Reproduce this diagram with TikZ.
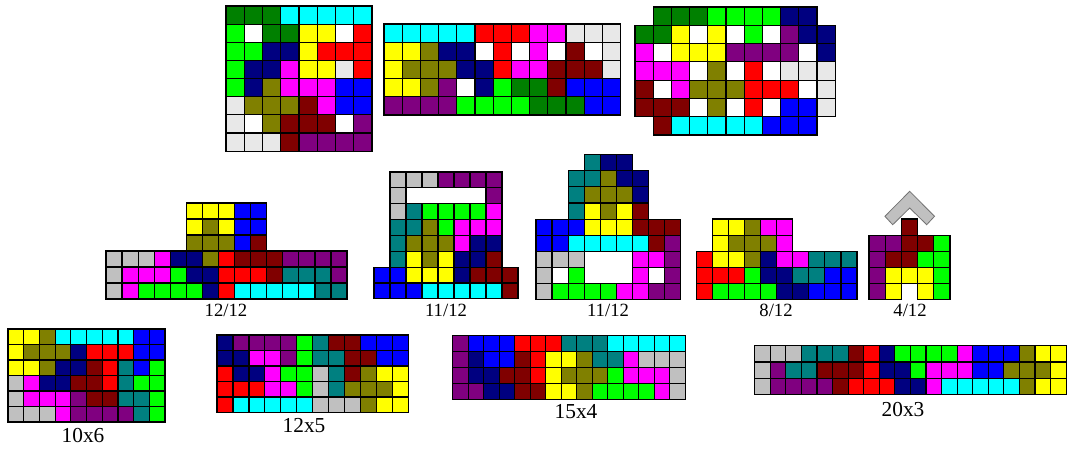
\documentclass[tikz,border=0pt]{standalone}
\usepackage{fontspec}
\setmainfont{Liberation Serif}
\definecolor{qG}{HTML}{008000}
\definecolor{qC}{HTML}{00FFFF}
\definecolor{qL}{HTML}{00FF00}
\definecolor{qW}{HTML}{FFFFFF}
\definecolor{qR}{HTML}{FF0000}
\definecolor{qN}{HTML}{000080}
\definecolor{qY}{HTML}{FFFF00}
\definecolor{qO}{HTML}{808000}
\definecolor{qM}{HTML}{FF00FF}
\definecolor{qB}{HTML}{0000FF}
\definecolor{qS}{HTML}{C0C0C0}
\definecolor{qP}{HTML}{800080}
\definecolor{qK}{HTML}{800000}
\definecolor{qT}{HTML}{008080}
\definecolor{qE}{HTML}{E8E8E8}
\tikzset{
  cellbox/.style={draw=black,line width=0.9pt},
  midlbl/.style={inner sep=0pt,font=\fontsize{14}{16}\selectfont},
  botlbl/.style={inner sep=0pt,font=\fontsize{16}{18}\selectfont},
  chevron/.style={fill=qS,draw=black!55,line width=0.6pt}
}
\newcommand\pgrid[5]{%
  \foreach \rw [count=\j from 0] in {#5} {%
    \foreach \q [count=\i from 0] in \rw {%
      \if\q x\else
        \filldraw[cellbox,fill=q\q] ({#1+\i*#3},{#2+\j*#4}) rectangle ++(#3,#4);
      \fi
    }%
  }%
}
\begin{document}
\begin{tikzpicture}[x=0.75pt,y=-0.75pt]
\fill[white] (0,0) rectangle (1069,452);
\useasboundingbox (0,0) rectangle (1069,452);

% top-left 8x8
\pgrid{226}{6}{18.25}{18.15}{%
 {G,G,G,C,C,C,C,C},
 {L,W,G,G,Y,Y,W,R},
 {L,L,N,N,Y,R,R,R},
 {L,N,N,M,Y,Y,E,R},
 {L,N,O,M,M,M,B,B},
 {E,O,O,O,K,M,B,B},
 {E,W,O,K,K,K,W,P},
 {E,E,E,K,P,P,P,P}}

% top-middle 13x5
\pgrid{384}{24}{18.2}{18.2}{%
 {C,C,C,C,C,R,R,R,M,M,E,E,E},
 {Y,Y,O,N,N,W,R,W,M,W,K,W,E},
 {Y,O,O,O,N,N,R,M,M,K,K,K,E},
 {Y,Y,O,P,W,N,L,G,G,K,B,B,B},
 {P,P,P,P,L,L,L,L,G,G,G,B,B}}

% top-right 11x7
\pgrid{635}{7}{18.2}{18.3}{%
 {x,G,G,G,L,L,L,L,N,N},
 {G,G,Y,W,Y,W,L,W,P,N,N},
 {M,W,Y,Y,Y,P,P,P,P,W,N},
 {M,M,M,W,O,W,R,W,E,E,E},
 {K,W,M,O,O,O,R,R,R,W,E},
 {K,K,K,W,O,W,R,W,B,B,E},
 {x,K,C,C,C,C,C,B,B,B}}

% 12/12
\pgrid{106}{203}{16.07}{16}{%
 {x,x,x,x,x,Y,Y,Y,B,B},
 {x,x,x,x,x,Y,O,Y,B,B},
 {x,x,x,x,x,O,O,O,B,K},
 {S,S,S,M,N,N,O,R,K,K,K,P,P,P,P},
 {S,M,M,M,L,N,N,R,R,R,K,T,T,T,P},
 {S,M,L,L,L,L,N,R,C,C,C,C,C,T,T}}
\node[midlbl] (l1212) at (226,310) {12/12};

% 11/12 first
\pgrid{374}{172}{16}{15.85}{%
 {x,S,S,S,P,P,P,P},
 {x,S,x,x,x,x,x,P},
 {x,S,T,L,L,L,L,M},
 {x,T,T,O,L,M,M,M},
 {x,T,O,O,O,M,N,N},
 {x,T,Y,O,Y,N,N,K},
 {B,B,Y,Y,Y,N,K,K,K},
 {B,B,B,C,C,C,C,C,K}}
\filldraw[cellbox,fill=white] (406,187.85) rectangle (486,203.7);
\node[midlbl] (l1112a) at (446,310) {11/12};

% 11/12 second
\pgrid{536}{154.7}{16.07}{16.1}{%
 {x,x,x,T,N,N},
 {x,x,T,T,O,N,N},
 {x,x,T,O,O,O,N},
 {x,x,T,Y,O,Y,K},
 {B,B,B,Y,Y,Y,K,K,K},
 {B,B,C,C,C,C,C,K,P},
 {S,S,S,x,x,x,M,M,P},
 {S,W,L,x,x,x,M,W,P},
 {S,L,L,L,L,M,M,P,P}}
\filldraw[cellbox,fill=white] (584.21,251.3) rectangle (632.42,283.5);
\node[midlbl] (l1112b) at (608,310) {11/12};

% 8/12
\pgrid{696.3}{219}{16.07}{16.1}{%
 {x,Y,Y,O,M,M},
 {x,Y,O,O,O,M},
 {R,Y,Y,O,N,M,M,T,T,T},
 {R,R,R,L,N,N,T,T,B,B},
 {R,L,L,L,L,N,N,B,B,B}}
\node[midlbl] (l812) at (776,310) {8/12};

% 4/12
\filldraw[chevron] (909.7,191.3) -- (934.5,216.3) -- (926.7,224.7) -- (909.7,208) -- (892.7,224.7) -- (884.9,216.3) -- cycle;
\pgrid{869}{219}{16.2}{16.1}{%
 {x,x,K},
 {P,P,K,K,L},
 {P,K,K,L,L},
 {P,Y,Y,Y,L},
 {P,Y,x,Y,L}}
\node[midlbl] (l412) at (910,310) {4/12};

% 10x6
\pgrid{8}{329}{15.7}{15.5}{%
 {Y,Y,O,C,C,C,C,C,B,B},
 {Y,O,O,O,N,R,R,R,B,B},
 {Y,Y,O,N,N,K,R,T,B,L},
 {S,M,N,N,K,K,R,T,L,L},
 {S,M,M,M,P,K,K,T,T,L},
 {S,S,S,M,P,P,P,P,T,L}}
\node[botlbl] (l106) at (83,436) {10x6};

% 12x5
\pgrid{217}{335}{15.95}{15.5}{%
 {N,P,P,P,P,L,T,K,K,B,B,B},
 {N,N,M,M,P,L,T,T,K,K,B,B},
 {R,N,N,M,L,L,S,T,K,O,Y,Y},
 {R,R,R,M,M,L,S,T,O,O,O,Y},
 {R,C,C,C,C,C,S,S,S,O,Y,Y}}
\node[botlbl] (l125) at (304,425.5) {12x5};

% 15x4
\pgrid{452.7}{335.7}{15.5}{15.9}{%
 {P,B,B,B,R,R,R,T,T,T,C,C,C,C,C},
 {P,N,B,B,K,R,Y,Y,O,T,T,M,S,S,S},
 {P,N,N,K,K,R,Y,O,O,O,L,M,M,M,S},
 {P,P,N,N,K,K,Y,Y,O,L,L,L,L,M,S}}
\node[botlbl] (l154) at (576,412) {15x4};

% 20x3
\pgrid{754.7}{345.7}{15.57}{16.2}{%
 {S,S,S,T,T,T,K,R,N,L,L,L,L,M,B,B,B,O,Y,Y},
 {S,P,T,T,K,K,K,R,N,N,L,M,M,M,B,B,O,O,O,Y},
 {S,P,P,P,P,K,R,R,R,N,N,M,C,C,C,C,C,O,Y,Y}}
\node[botlbl] (l203) at (903,410) {20x3};
\end{tikzpicture}
\end{document}
